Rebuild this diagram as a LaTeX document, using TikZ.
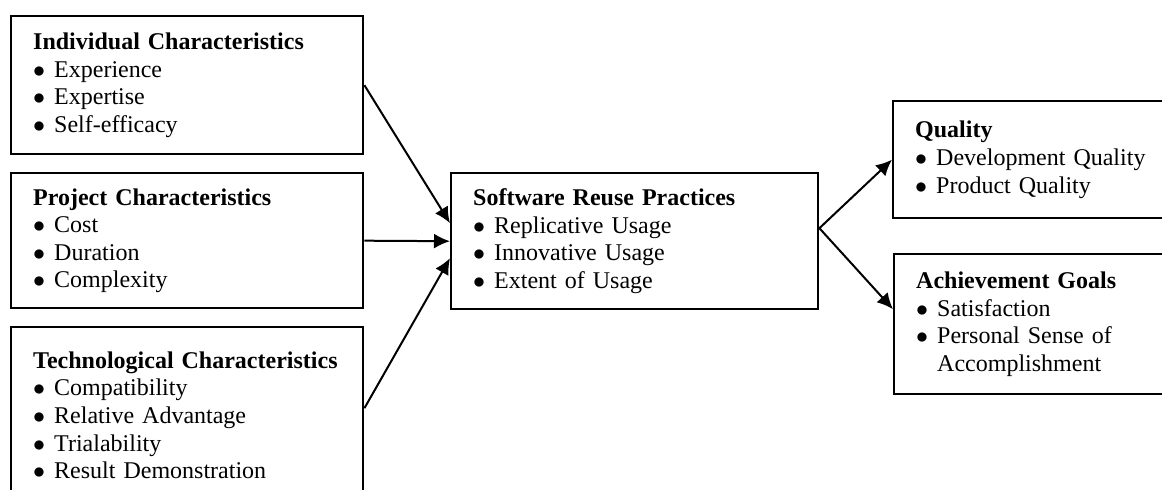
\documentclass[tikz,border=0pt]{standalone}
\usepackage{fontspec}
\setmainfont{Liberation Serif}
\usetikzlibrary{arrows.meta}

% bullet line inside a box
\newcommand{\itm}[1]{\makebox[10.5pt][l]{$\bullet$}#1}

\begin{document}
\begin{tikzpicture}[x=0.5pt,y=-0.5pt,
  >={Latex[length=8pt,width=7.5pt]},
  factor/.style={draw, line width=1.2pt, anchor=north west, align=left,
    inner xsep=11pt, inner ysep=0pt,
    font=\fontsize{12}{13.8}\selectfont},
  link/.style={->, line width=1pt}]
\clip (0,0) rectangle (1162,490);
% antecedents
\node[factor, text width=154pt, minimum height=69pt] (indiv) at (10,15)
  {\textbf{Individual Characteristics}\\ \itm{Experience}\\ \itm{Expertise}\\ \itm{Self-efficacy}};
\node[factor, text width=154pt, minimum height=67.5pt] (project) at (10,172)
  {\textbf{Project Characteristics}\\ \itm{Cost}\\ \itm{Duration}\\ \itm{Complexity}};
\node[factor, text width=154pt, minimum height=88pt] (tech) at (10,326)
  {\textbf{Technological Characteristics}\\ \itm{Compatibility}\\ \itm{Relative Advantage}\\ \itm{Trialability}\\ \itm{Result Demonstration}};
% reuse practices
\node[factor, text width=161.5pt, minimum height=68pt] (reuse) at (450,172)
  {\textbf{Software Reuse Practices}\\ \itm{Replicative Usage}\\ \itm{Innovative Usage}\\ \itm{Extent of Usage}};
% outcomes
\node[factor, text width=122pt, minimum height=58.5pt] (quality) at (892,100)
  {\textbf{Quality}\\ \itm{Development Quality}\\ \itm{Product Quality}};
\node[factor, text width=122pt, minimum height=70pt] (goals) at (893,253)
  {\textbf{Achievement Goals}\\ \itm{Satisfaction}\\ \itm{Personal Sense of}\\ \hspace*{10.5pt}Accomplishment};

\draw[link] (indiv.east) -- ([yshift=9pt]reuse.west);
\draw[link] (project.east) -- (reuse.west);
\draw[link] ([yshift=3.5pt]tech.east) -- ([yshift=-8.5pt]reuse.west);
\draw[link] ([yshift=6.5pt]reuse.east) -- (quality.west);
\draw[link] ([yshift=6.5pt]reuse.east) -- ([yshift=7.5pt]goals.west);
\end{tikzpicture}
\end{document}
